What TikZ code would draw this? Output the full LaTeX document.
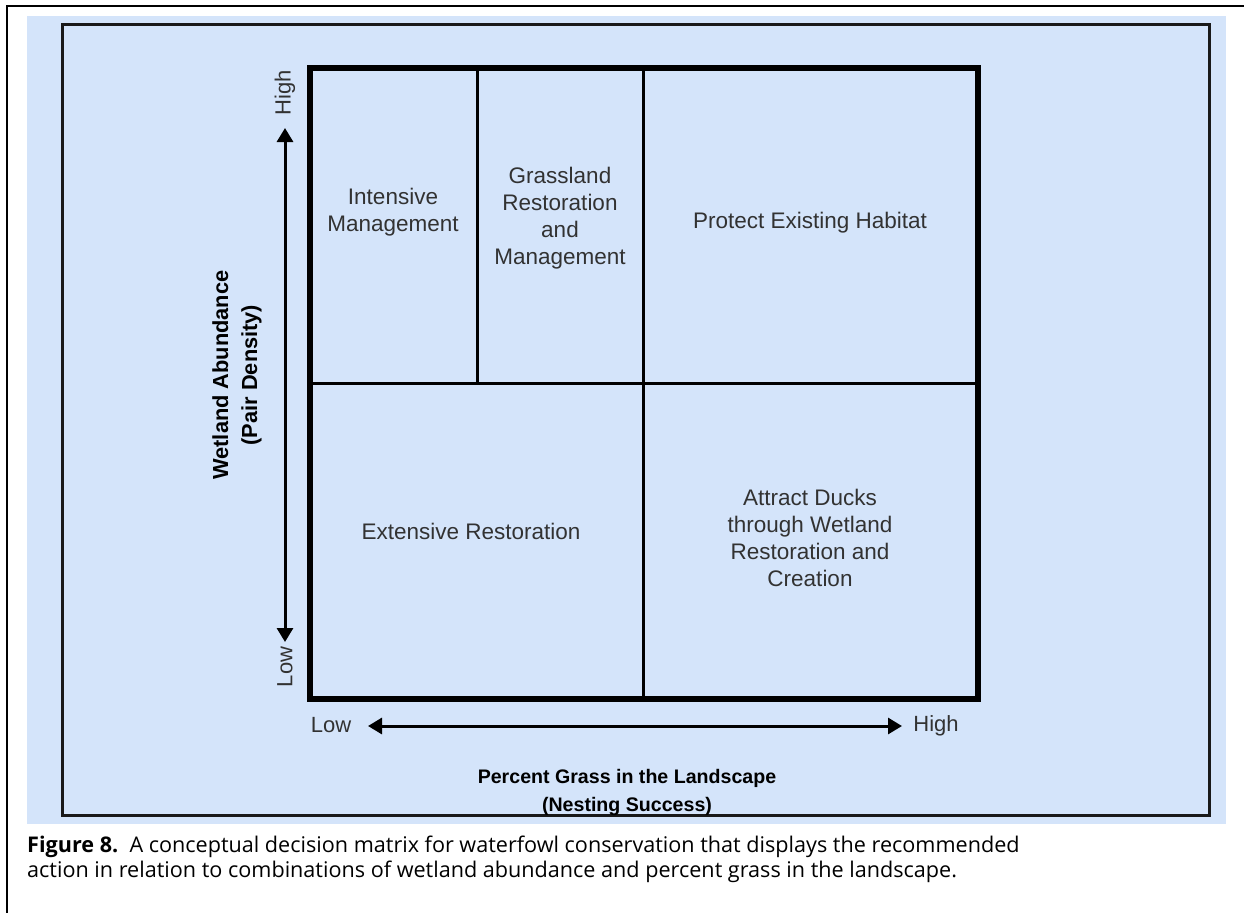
\documentclass[tikz,border=0pt]{standalone}
\usepackage{fontspec}
\setmainfont{Liberation Sans}
\newfontfamily\capfont{Open Sans}
\usetikzlibrary{arrows.meta,positioning}
\definecolor{panelblue}{RGB}{212,228,250}
\definecolor{celltext}{RGB}{50,50,50}
\tikzset{
  celda/.style={align=center, font=\fontsize{22.5}{27}\selectfont, text=celltext},
  eje/.style={align=center, font=\bfseries\fontsize{19.6}{28}\selectfont},
  ejev/.style={align=center, font=\bfseries\fontsize{21.8}{29}\selectfont},
  nivel/.style={font=\fontsize{22}{24}\selectfont, text=celltext, inner sep=0pt},
  marco/.style={line width=6pt, line join=miter},
  division/.style={line width=3pt},
  flecha/.style={{Triangle[length=14pt,width=16pt]}-{Triangle[length=14pt,width=16pt]},
    line width=3pt}
}

\begin{document}
\begin{tikzpicture}[x=1pt,y=-1pt]
\useasboundingbox (0,0) rectangle (1244,913);

% page frame and panel
\draw[line width=2.5pt] (1244,6) -- (7,6) -- (7,913);
\fill[panelblue] (27,16) rectangle (1226,824);
\draw[line width=3pt, black!90] (62,24) rectangle (1209,815);

% matrix
\coordinate (nw) at (310,68);
\coordinate (se) at (978,699);
\coordinate (izq) at (310,383);
\coordinate (der) at (978,383);
\coordinate (arr1) at (477,68);
\coordinate (med1) at (477,383);
\coordinate (arr2) at (643,68);
\coordinate (aba2) at (643,699);
\draw[division] (izq) -- (der);
\draw[division] (arr1) -- (med1);
\draw[division] (arr2) -- (aba2);
\draw[marco] (nw) rectangle (se);

\node[celda] (intensivo) at (393,212) {Intensive\\Management};
\node[celda] (pastizal)  at (560,218) {Grassland\\Restoration\\and\\Management};
\node[celda] (proteger)  at (810,223) {Protect Existing Habitat};
\node[celda] (extensivo) at (471,531) {Extensive Restoration};
\node[celda] (atraer)    at (810,538) {Attract Ducks\\through Wetland\\Restoration and\\Creation};

% vertical axis
\node[nivel, rotate=90] (yalto) at (285,93) {High};
\node[nivel, rotate=90] (ybajo) at (285,667) {Low};
\coordinate (ytop) at (285,128);
\coordinate (ybot) at (285,642);
\draw[flecha] (ytop) -- (ybot);
\node[ejev, rotate=90] (yeje) at (237,375) {Wetland Abundance\\(Pair Density)};

% horizontal axis
\node[nivel] (xbajo) at (331,725) {Low};
\node[nivel] (xalto) at (936,726) {High};
\coordinate (xizq) at (368,726);
\coordinate (xder) at (902,726);
\draw[flecha] (xizq) -- (xder);
\node[eje] (xeje) at (627,792) {Percent Grass in the Landscape\\(Nesting Success)};

% caption
\node[anchor=north west, inner sep=0pt, align=left,
      font=\capfont\fontsize{21.6}{25}\selectfont] (leyenda) at (27,836)
  {\textbf{Figure 8.}\ \ A conceptual decision matrix for waterfowl conservation that displays the recommended\\
   action in relation to combinations of wetland abundance and percent grass in the landscape.};

\end{tikzpicture}
\end{document}
